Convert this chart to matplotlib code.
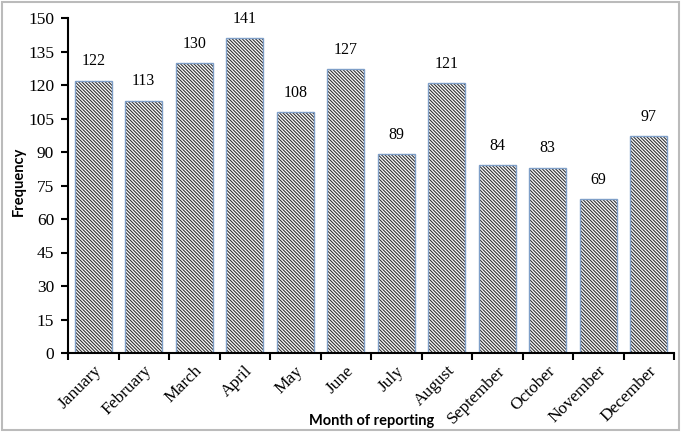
import matplotlib
matplotlib.use("Agg")
import matplotlib.pyplot as plt
from matplotlib.patches import Rectangle

months = ["January", "February", "March", "April", "May", "June", "July",
          "August", "September", "October", "November", "December"]
counts = [122, 113, 130, 141, 108, 127, 89, 121, 84, 83, 69, 97]
yticks = list(range(0, 151, 15))

plt.rcParams["hatch.linewidth"] = 0.8
serif = ["Liberation Serif", "DejaVu Serif"]

fig = plt.figure(figsize=(6.83, 4.36), dpi=100)
ax = fig.add_axes([68 / 683, 1 - 353 / 436, 606 / 683, 335 / 436])

x = range(len(months))
# hatched fill, then outline on top
ax.bar(x, counts, width=0.73, color="white", edgecolor="#333333",
       hatch="\\" * 10, linewidth=0)
ax.bar(x, counts, width=0.73, fill=False, edgecolor="#7f9fc8", linewidth=1.0)

for i, v in enumerate(counts):
    ax.text(i, v + 5, str(v), ha="center", va="bottom", fontsize=11.5,
            family=serif)

ax.set_xlim(-0.5, len(months) - 0.5)
ax.set_ylim(0, 150)
ax.set_yticks(yticks)
ax.set_yticklabels([str(t) for t in yticks], family=serif, fontsize=12.5)
ax.set_xticks(x)
ax.set_xticklabels(months, rotation=45, ha="right", rotation_mode="anchor",
                   family=serif, fontsize=12.5)
ax.tick_params(axis="x", length=0, pad=7)
ax.set_xticks([i + 0.5 for i in range(-1, len(months))], minor=True)
ax.tick_params(axis="x", which="minor", length=5, width=1.5, direction="out")
ax.tick_params(axis="y", length=5, width=1.5, direction="out", pad=5)

for s in ["top", "right"]:
    ax.spines[s].set_visible(False)
for s in ["left", "bottom"]:
    ax.spines[s].set_linewidth(1.5)

fig.text(372 / 683, 1 - 421 / 436, "Month of reporting", ha="center",
         va="center", fontsize=10.5, fontweight="bold", family="Lato")
fig.text(19 / 683, 1 - 181 / 436, "Frequency", ha="center", va="center",
         rotation=90, fontsize=10.5, fontweight="bold", family="Lato")

fig.patches.append(Rectangle((2 / 683, 6 / 436), 677 / 683, 428 / 436,
                             transform=fig.transFigure, fill=False,
                             edgecolor="#bbbbbb", linewidth=1.5))

fig.savefig("out.png", dpi=100)
